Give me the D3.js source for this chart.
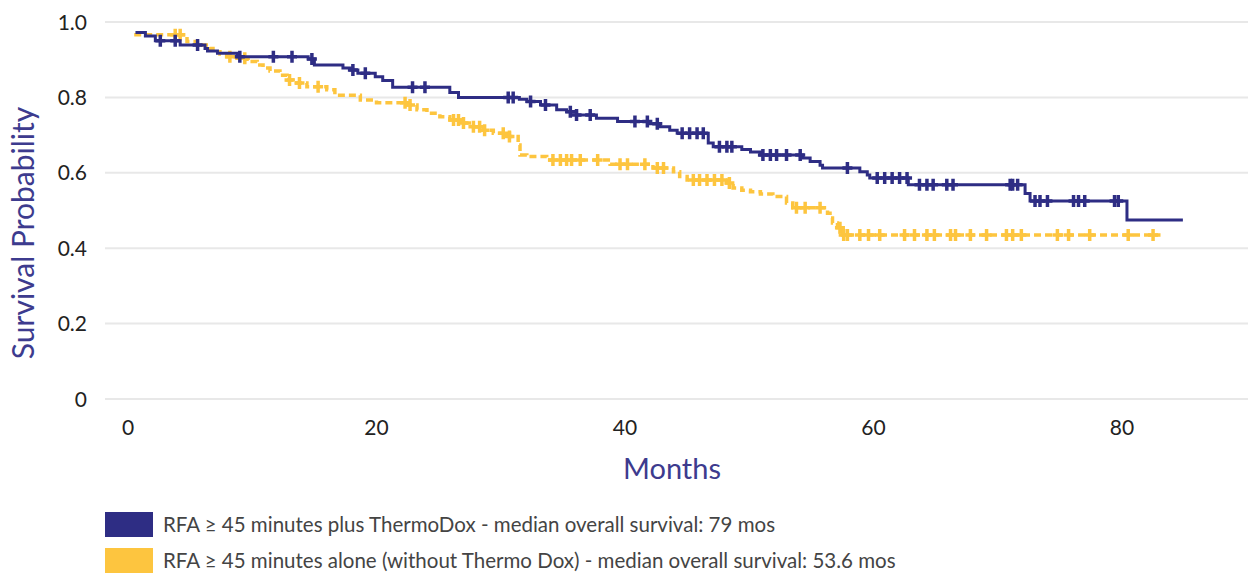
<!DOCTYPE html>
<html>
<head>
<meta charset="utf-8">
<script src="https://cdn.jsdelivr.net/npm/d3@7"></script>
<style>
  body { margin: 0; background: #fff; }
  svg text { font-family: Lato, "Open Sans", sans-serif; }
</style>
</head>
<body>
<div id="chart"></div>
<script>
// step times (months) and survival after each step
var blueTimes = [0.6, 1.4, 2.2, 4.2, 6.2, 6.4, 7.2, 8.8, 14.5, 15.0, 17.3, 17.9, 18.5, 19.9, 20.5, 21.3, 25.9, 26.6, 31.5, 32.1, 33.2, 34.5, 35.3, 36.1, 37.7, 39.4, 42.0, 42.8, 43.6, 44.2, 46.7, 47.1, 49.4, 50.1, 50.9, 54.3, 54.9, 55.7, 55.9, 58.9, 59.5, 59.7, 62.8, 72.2, 72.6, 80.4, 84.9];
var blueSurv = [0.972, 0.963, 0.950, 0.939, 0.930, 0.923, 0.917, 0.908, 0.902, 0.886, 0.878, 0.873, 0.864, 0.855, 0.845, 0.827, 0.813, 0.800, 0.795, 0.789, 0.780, 0.767, 0.762, 0.753, 0.745, 0.736, 0.730, 0.722, 0.713, 0.705, 0.679, 0.669, 0.662, 0.655, 0.647, 0.639, 0.630, 0.620, 0.613, 0.603, 0.594, 0.586, 0.568, 0.545, 0.525, 0.475, 0.475];
var blueCensor = [2.6, 3.8, 5.6, 9.0, 11.7, 13.2, 14.8, 18.1, 19.1, 22.9, 23.9, 30.6, 31.0, 32.4, 33.6, 35.6, 36.1, 37.2, 40.8, 41.8, 42.6, 44.6, 45.2, 45.8, 46.3, 47.6, 48.2, 48.6, 51.1, 51.7, 52.2, 53.0, 54.1, 57.9, 60.3, 60.9, 61.5, 62.1, 62.7, 63.7, 64.3, 64.8, 65.9, 66.4, 71.0, 71.2, 71.6, 73.0, 73.4, 74.0, 76.1, 76.5, 77.0, 79.4, 79.7];

var yellowTimes = [0.5, 4.75, 5.55, 6.6, 6.84, 7.4, 7.97, 8.77, 9.58, 10.4, 10.87, 11.43, 12.23, 12.8, 13.28, 14.4, 16.0, 16.65, 18.7, 20.0, 22.45, 23.26, 24.06, 25.1, 25.9, 27.0, 27.8, 28.6, 29.4, 30.7, 31.4, 31.55, 32.1, 33.7, 38.8, 42.25, 43.9, 44.4, 45.0, 48.2, 48.7, 49.4, 50.1, 50.9, 51.9, 53.0, 53.5, 56.3, 56.5, 56.7, 57.1, 57.5, 83.1];
var yellowSurv = [0.966, 0.948, 0.939, 0.930, 0.921, 0.915, 0.908, 0.904, 0.895, 0.886, 0.878, 0.870, 0.859, 0.846, 0.838, 0.828, 0.820, 0.806, 0.793, 0.786, 0.780, 0.767, 0.758, 0.749, 0.740, 0.732, 0.722, 0.713, 0.705, 0.696, 0.674, 0.647, 0.643, 0.634, 0.623, 0.613, 0.603, 0.590, 0.581, 0.573, 0.560, 0.554, 0.550, 0.544, 0.537, 0.520, 0.507, 0.493, 0.480, 0.467, 0.454, 0.435, 0.435];
var yellowCensor = [3.8, 4.2, 8.2, 9.4, 13.0, 13.8, 15.3, 22.3, 22.7, 26.2, 26.6, 27.0, 27.8, 28.3, 28.7, 30.2, 30.7, 34.2, 34.8, 35.3, 35.7, 36.4, 37.8, 39.6, 40.2, 41.6, 42.6, 43.1, 45.5, 46.0, 46.6, 47.2, 47.8, 48.4, 53.8, 54.5, 55.7, 57.3, 57.6, 57.9, 58.9, 59.6, 60.5, 62.5, 63.3, 64.3, 64.9, 66.2, 66.6, 67.8, 69.1, 70.7, 71.2, 71.9, 74.8, 75.7, 77.4, 80.5, 82.5];

var xTicks = [0, 20, 40, 60, 80];
var yTicks = [0, 0.2, 0.4, 0.6, 0.8, 1.0];
var legendLabels = [
  "RFA \u2265 45 minutes plus ThermoDox - median overall survival: 79 mos",
  "RFA \u2265 45 minutes alone (without Thermo Dox) - median overall survival: 53.6 mos"
];

var navy = "#2e2d84", gold = "#fdc53f";
var width = 1248, height = 573;

var x = d3.scaleLinear().domain([0, 80]).range([128, 1122]);
var y = d3.scaleLinear().domain([0, 1]).range([399, 22]);

var svg = d3.select("#chart").append("svg")
  .attr("width", width)
  .attr("height", height);

// grid lines
svg.selectAll(".grid")
  .data(yTicks)
  .enter().append("line")
  .attr("x1", 105).attr("x2", width)
  .attr("y1", d => y(d)).attr("y2", d => y(d))
  .attr("stroke", "#e8e8e8")
  .attr("stroke-width", 2);

svg.selectAll(".ylab")
  .data(yTicks)
  .enter().append("text")
  .attr("x", 87)
  .attr("y", d => y(d))
  .attr("dy", "0.36em")
  .attr("text-anchor", "end")
  .attr("font-size", 21)
  .attr("fill", "#222")
  .text(d => d === 0 ? "0" : d.toFixed(1));

svg.selectAll(".xlab")
  .data(xTicks)
  .enter().append("text")
  .attr("x", d => x(d))
  .attr("y", 427)
  .attr("dy", "0.36em")
  .attr("text-anchor", "middle")
  .attr("font-size", 21)
  .attr("fill", "#222")
  .text(d => d);

svg.append("text")
  .attr("transform", "translate(34,233) rotate(-90)")
  .attr("text-anchor", "middle")
  .attr("font-size", 30)
  .attr("fill", "#3d3b8e")
  .text("Survival Probability");

svg.append("text")
  .attr("x", 672)
  .attr("y", 479)
  .attr("text-anchor", "middle")
  .attr("font-size", 29)
  .attr("fill", "#3d3b8e")
  .text("Months");

function survAt(times, surv, t) {
  var s = surv[0];
  for (var i = 0; i < times.length; i++) {
    if (times[i] <= t) s = surv[i];
  }
  return s;
}

var line = d3.line()
  .x(d => x(d[0]))
  .y(d => y(d[1]))
  .curve(d3.curveStepAfter);

function drawCurve(times, surv, censor, color, dash, w) {
  var pts = times.map((t, i) => [t, surv[i]]);
  svg.append("path")
    .datum(pts)
    .attr("d", line)
    .attr("fill", "none")
    .attr("stroke", color)
    .attr("stroke-width", w)
    .attr("stroke-dasharray", dash);

  svg.append("g").selectAll("path")
    .data(censor)
    .enter().append("path")
    .attr("d", function (t) {
      var cx = x(t), cy = y(survAt(times, surv, t));
      return "M" + (cx - 5) + "," + cy + "h10M" + cx + "," + (cy - 6) + "v12";
    })
    .attr("stroke", color)
    .attr("stroke-width", 3.5)
    .attr("fill", "none");
}

drawCurve(yellowTimes, yellowSurv, yellowCensor, gold, "7,4", 3.5);
drawCurve(blueTimes, blueSurv, blueCensor, navy, null, 3);

// legend
var legend = svg.selectAll(".legend")
  .data(legendLabels)
  .enter().append("g")
  .attr("transform", (d, i) => "translate(105," + (512 + i * 36) + ")");

legend.append("rect")
  .attr("width", 48)
  .attr("height", 25)
  .attr("fill", (d, i) => i === 0 ? navy : gold);

legend.append("text")
  .attr("x", 58)
  .attr("y", 13)
  .attr("dy", "0.36em")
  .attr("font-size", 20.5)
  .attr("fill", "#444")
  .text(d => d);
</script>
</body>
</html>
